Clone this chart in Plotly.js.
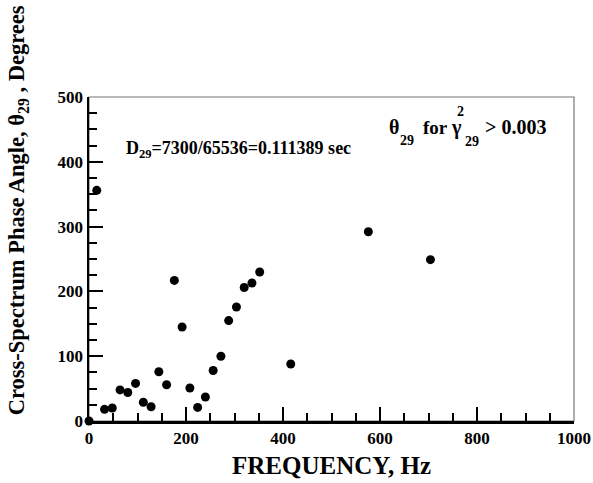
<!DOCTYPE html>
<html>
<head>
<meta charset="utf-8">
<script src="https://cdn.plot.ly/plotly-3.0.1.min.js"></script>
<style>html,body{margin:0;padding:0;background:#fff;}#chart{width:593px;height:483px;}</style>
</head>
<body>
<div id="chart"></div>
<script>
// Data
const freqHz = [0, 16, 32, 48, 64, 80, 96, 112, 128, 144, 160, 176, 192, 208, 224, 240, 256, 272, 288, 304, 320, 336, 352, 416, 576, 704];
const phaseDeg = [0, 356, 18, 20, 48, 44, 58, 29, 22, 76, 56, 217, 145, 51, 21, 37, 78, 100, 155, 176, 206, 213, 230, 88, 292, 249];
const xTickVals = [0, 200, 400, 600, 800, 1000];
const yTickVals = [0, 100, 200, 300, 400, 500];

const FONT = '"Liberation Serif", "Times New Roman", Times, serif';

const trace = {
  x: freqHz,
  y: phaseDeg,
  type: 'scatter',
  mode: 'markers',
  marker: {color: '#000', size: 9},
  cliponaxis: false,
  showlegend: false,
  hoverinfo: 'x+y'
};

function txt(text, x, y, size, xanchor) {
  return {xref: 'paper', yref: 'paper', x: x, y: y, xanchor: xanchor || 'left', yanchor: 'middle',
          showarrow: false, text: text,
          font: {family: FONT, size: size, weight: 'bold', color: '#000'}};
}

const layout = {
  width: 593,
  height: 483,
  margin: {l: 89, r: 19, t: 97, b: 62},
  paper_bgcolor: '#fff',
  plot_bgcolor: '#fff',
  font: {family: FONT, color: '#000'},
  showlegend: false,
  xaxis: {
    range: [0, 1000],
    tickvals: xTickVals,
    ticktext: xTickVals.map(String),
    ticks: 'inside',
    ticklen: 14,
    tickwidth: 2,
    tickcolor: '#000',
    minor: {dtick: 50, tick0: 0, ticks: 'inside', ticklen: 8, tickwidth: 2, tickcolor: '#000', showgrid: false},
    showline: true,
    linecolor: '#000',
    linewidth: 2.5,
    showgrid: false,
    zeroline: false,
    tickfont: {family: FONT, size: 17, weight: 'bold', color: '#000'},
    title: {text: 'FREQUENCY, Hz', font: {family: FONT, size: 25, weight: 'bold', color: '#000'}, standoff: 10}
  },
  yaxis: {
    range: [0, 500],
    tickvals: yTickVals,
    ticktext: yTickVals.map(String),
    ticks: 'inside',
    ticklen: 14,
    tickwidth: 2,
    tickcolor: '#000',
    minor: {dtick: 25, tick0: 0, ticks: 'inside', ticklen: 8, tickwidth: 2, tickcolor: '#000', showgrid: false},
    showline: true,
    linecolor: '#000',
    linewidth: 2.5,
    showgrid: false,
    zeroline: false,
    tickfont: {family: FONT, size: 17, weight: 'bold', color: '#000'}
  },
  shapes: [
    {type: 'rect', xref: 'paper', yref: 'paper', x0: 0, x1: 1, y0: 0, y1: 1,
     line: {color: '#777', width: 1.2}, layer: 'below'}
  ],
  annotations: [
    Object.assign(txt('Cross-Spectrum Phase Angle, θ<sub>29</sub> , Degrees', -0.146, 0.651, 22.5, 'center'), {textangle: -90}),
    txt('D<sub>29</sub>=7300/65536=0.111389 sec', 0.072, 0.838, 18),
    txt('θ', 0.6144, 0.907, 20),
    txt('29', 0.637, 0.867, 14),
    txt('for', 0.6845, 0.907, 19),
    txt('γ', 0.742, 0.907, 20),
    txt('2', 0.766, 0.954, 14, 'center'),
    txt('29', 0.772, 0.864, 14),
    txt('&gt; 0.003', 0.8124, 0.907, 20)
  ]
};

Plotly.newPlot('chart', [trace], layout, {displayModeBar: false, staticPlot: true});
</script>
</body>
</html>
